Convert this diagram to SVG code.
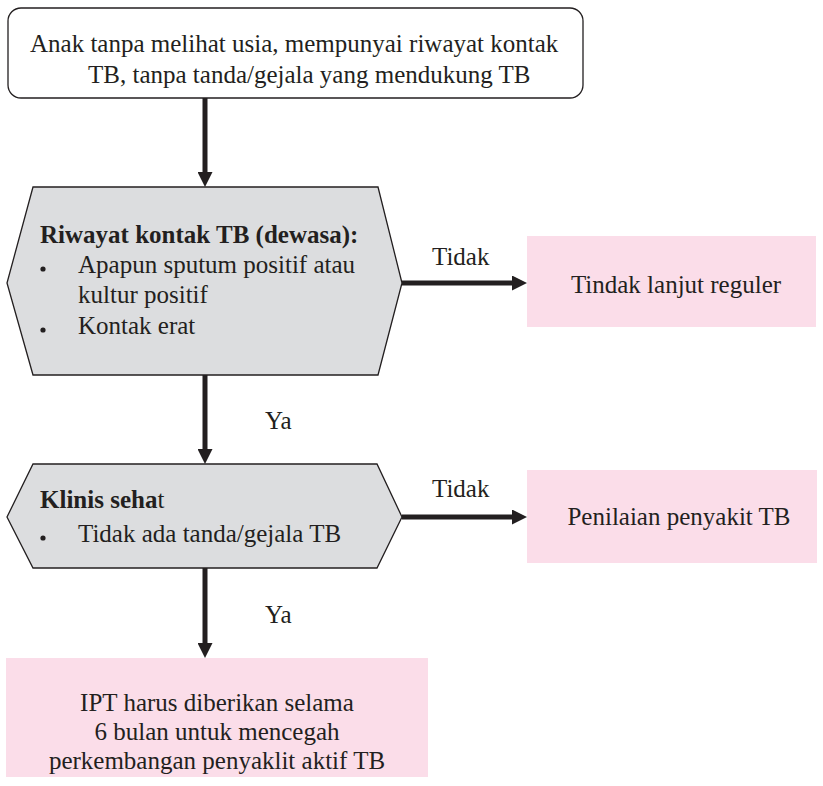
<svg xmlns="http://www.w3.org/2000/svg" width="823" height="786" viewBox="0 0 823 786">
  <style>
    text { font-family: "Liberation Serif", "DejaVu Serif", serif; font-size: 25px; fill: #231f20; }
    .b { font-weight: bold; }
    .mid { text-anchor: middle; }
    .start-box { fill: #ffffff; stroke: #231f20; stroke-width: 1.3; }
    .decision { fill: #dcdddf; stroke: #231f20; stroke-width: 1.3; }
    .result { fill: #fbdde9; stroke: none; }
    .flow { stroke: #231f20; stroke-width: 5; fill: none; marker-end: url(#head); }
    .dot { fill: #231f20; }
  </style>
  <defs>
    <marker id="head" viewBox="0 0 15 15" refX="0" refY="7.5" markerWidth="15" markerHeight="15" markerUnits="userSpaceOnUse" orient="auto">
      <path d="M0,0 L15,7.5 L0,15 Z" fill="#231f20"/>
    </marker>
  </defs>

  <!-- start -->
  <g id="start">
    <rect class="start-box" x="8" y="8" width="575" height="90" rx="13" ry="13"/>
    <text x="30" y="52">Anak tanpa melihat usia, mempunyai riwayat kontak</text>
    <text x="88" y="83">TB, tanpa tanda/gejala yang mendukung TB</text>
  </g>

  <!-- decision: contact history -->
  <g id="contact">
    <polygon class="decision" points="33,187 378,187 402,283 378,375 33,375 7,283"/>
    <text class="b" x="40" y="243">Riwayat kontak TB (dewasa):</text>
    <circle class="dot" cx="43" cy="269" r="2.6"/>
    <text x="78" y="273">Apapun sputum positif atau</text>
    <text x="78" y="303">kultur positif</text>
    <circle class="dot" cx="43" cy="330" r="2.6"/>
    <text x="78" y="334">Kontak erat</text>
  </g>

  <!-- decision: clinically healthy -->
  <g id="healthy">
    <polygon class="decision" points="33,464 377,464 402,517 377,568 33,568 7,517"/>
    <text x="40" y="508"><tspan class="b">Klinis seha</tspan>t</text>
    <circle class="dot" cx="43" cy="538" r="2.6"/>
    <text x="78" y="542">Tidak ada tanda/gejala TB</text>
  </g>

  <!-- outcomes -->
  <g id="regular">
    <rect class="result" x="527" y="236" width="289" height="91"/>
    <text class="mid" x="676" y="293">Tindak lanjut reguler</text>
  </g>

  <g id="assess">
    <rect class="result" x="527" y="470" width="290" height="93"/>
    <text class="mid" x="679" y="525">Penilaian penyakit TB</text>
  </g>

  <g id="ipt">
    <rect class="result" x="6" y="658" width="422" height="119"/>
    <text class="mid" x="217" y="711">IPT harus diberikan selama</text>
    <text class="mid" x="217" y="740">6 bulan untuk mencegah</text>
    <text class="mid" x="217" y="769">perkembangan penyaklit aktif TB</text>
  </g>

  <!-- connectors -->
  <g id="connectors">
    <line class="flow" x1="205" y1="98" x2="205" y2="172"/>
    <line class="flow" x1="205" y1="375" x2="205" y2="449"/>
    <line class="flow" x1="205" y1="568" x2="205" y2="643"/>
    <line class="flow" x1="402" y1="283" x2="512" y2="283"/>
    <line class="flow" x1="402" y1="517" x2="512" y2="517"/>
    <text x="265" y="429">Ya</text>
    <text x="265" y="623">Ya</text>
    <text x="432" y="265">Tidak</text>
    <text x="432" y="497">Tidak</text>
  </g>
</svg>
